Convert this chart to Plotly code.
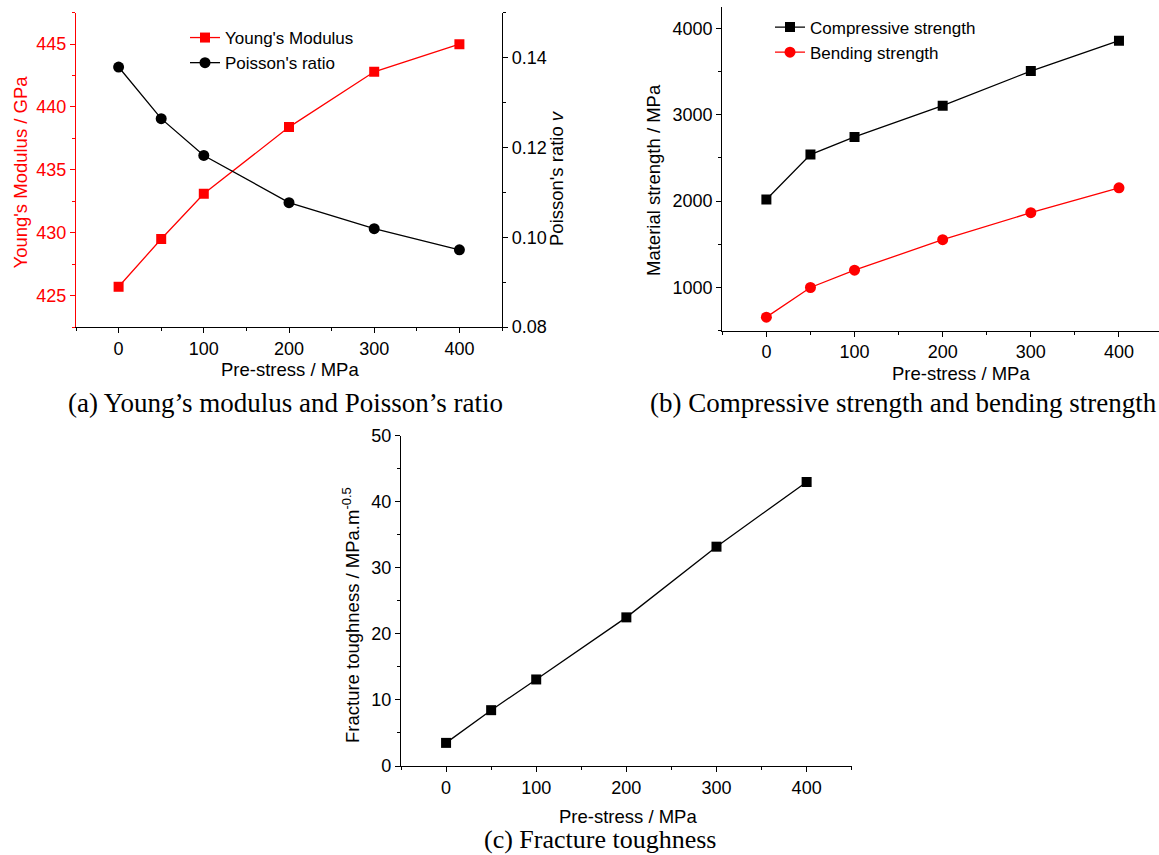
import plotly.graph_objects as go

W, H = 1159, 855

# ---- data ----
pre_stress = [0, 50, 100, 200, 300, 400]
youngs_modulus = [425.7, 429.5, 433.1, 438.4, 442.8, 445.0]
poisson_ratio = [0.1379, 0.1264, 0.1182, 0.1077, 0.1019, 0.0972]
compressive_strength = [2019, 2539, 2743, 3105, 3505, 3857]
bending_strength = [657, 1000, 1200, 1554, 1866, 2154]
fracture_toughness = [3.5, 8.45, 13.1, 22.5, 33.2, 43.0]

x_tick_vals = [0, 100, 200, 300, 400]

SANS = "Liberation Sans, Arial, sans-serif"
SERIF = "Liberation Serif, Times New Roman, serif"
RED = "#ff0000"


def fx(px):
    return px / W


def fy(py):
    return 1 - py / H


fig = go.Figure()

# (a)
fig.add_trace(go.Scatter(
    x=pre_stress, y=youngs_modulus, name="Young's Modulus",
    mode="lines+markers", xaxis="x", yaxis="y", legend="legend",
    line=dict(color=RED, width=1.3),
    marker=dict(symbol="square", size=10, color=RED)))
fig.add_trace(go.Scatter(
    x=pre_stress, y=poisson_ratio, name="Poisson's ratio",
    mode="lines+markers", xaxis="x", yaxis="y2", legend="legend",
    line=dict(color="black", width=1.3),
    marker=dict(symbol="circle", size=11, color="black")))

# (b)
fig.add_trace(go.Scatter(
    x=pre_stress, y=compressive_strength, name="Compressive strength",
    mode="lines+markers", xaxis="x2", yaxis="y3", legend="legend2",
    line=dict(color="black", width=1.3),
    marker=dict(symbol="square", size=10, color="black")))
fig.add_trace(go.Scatter(
    x=pre_stress, y=bending_strength, name="Bending strength",
    mode="lines+markers", xaxis="x2", yaxis="y3", legend="legend2",
    line=dict(color=RED, width=1.3),
    marker=dict(symbol="circle", size=11, color=RED)))

# (c)
fig.add_trace(go.Scatter(
    x=pre_stress, y=fracture_toughness, name="Fracture toughness",
    mode="lines+markers", xaxis="x3", yaxis="y4", showlegend=False,
    line=dict(color="black", width=1.3),
    marker=dict(symbol="square", size=10, color="black")))


def axis(color="black", **kw):
    d = dict(showgrid=False, zeroline=False, showline=True, linecolor=color,
             linewidth=1.3, ticks="outside", ticklen=5, tickwidth=1.2,
             tickcolor=color, tickfont=dict(family=SANS, size=18, color=color),
             fixedrange=True, automargin=False)
    d.update(kw)
    return d


layout_axes = dict(
    xaxis=axis(domain=[fx(76), fx(502)], range=[-50, 450], anchor="y",
               tickmode="array", tickvals=x_tick_vals,
               minor=dict(dtick=50, tick0=0, ticks="outside", ticklen=3, tickcolor="black")),
    yaxis=axis(color=RED, domain=[fy(327), fy(12.7)], range=[422.5, 447.5], anchor="x",
               dtick=5, tick0=425,
               minor=dict(dtick=2.5, tick0=425, ticks="outside", ticklen=3, tickcolor=RED)),
    yaxis2=axis(overlaying="y", side="right", anchor="x", range=[0.08, 0.15],
                dtick=0.02, tick0=0.08, tickformat=".2f",
                minor=dict(dtick=0.01, tick0=0.08, ticks="outside", ticklen=3, tickcolor="black")),
    xaxis2=axis(domain=[fx(722.3), 1.0], range=[-50, 445.4], anchor="y3",
                tickmode="array", tickvals=x_tick_vals,
                minor=dict(dtick=50, tick0=0, ticks="outside", ticklen=3, tickcolor="black")),
    yaxis3=axis(domain=[fy(330.7), fy(6.7)], range=[500, 4250], anchor="x2",
                dtick=1000, tick0=0,
                minor=dict(dtick=500, tick0=0, ticks="outside", ticklen=3, tickcolor="black")),
    xaxis3=axis(domain=[fx(401), fx(851.7)], range=[-50, 450], anchor="y4",
                tickmode="array", tickvals=x_tick_vals,
                minor=dict(dtick=50, tick0=0, ticks="outside", ticklen=3, tickcolor="black")),
    yaxis4=axis(domain=[fy(766), fy(435.7)], range=[0, 50], anchor="x3",
                dtick=10, tick0=0,
                minor=dict(dtick=5, tick0=0, ticks="outside", ticklen=3, tickcolor="black")),
)


def ann(text, px, py, size=18.5, color="black", angle=0, family=SANS):
    return dict(text=text, x=fx(px), y=fy(py), xref="paper", yref="paper",
                xanchor="center", yanchor="middle", showarrow=False,
                textangle=angle, font=dict(family=family, size=size, color=color))


annotations = [
    ann("Young's Modulus / GPa", 19.5, 172, color=RED, angle=-90),
    ann("Poisson's ratio <i>v</i>", 556, 178, angle=-90),
    ann("Pre-stress / MPa", 290, 369),
    ann("Material strength / MPa", 653, 180, angle=-90),
    ann("Pre-stress / MPa", 961, 373),
    ann("Fracture toughness / MPa.m<sup>-0.5</sup>", 351, 615, angle=-90),
    ann("Pre-stress / MPa", 628, 816),
    ann("(a) Young\u2019s modulus and Poisson\u2019s ratio", 285, 403, size=27, family=SERIF),
    ann("(b) Compressive strength and bending strength", 903, 403, size=27, family=SERIF),
    ann("(c) Fracture toughness", 600, 839, size=26, family=SERIF),
]

fig.update_layout(
    width=W, height=H, autosize=False,
    margin=dict(l=0, r=0, t=0, b=0, pad=0),
    paper_bgcolor="white", plot_bgcolor="white",
    font=dict(family=SANS, size=17, color="black"),
    annotations=annotations,
    legend=dict(x=fx(185), y=fy(20), xanchor="left", yanchor="top",
                bgcolor="rgba(0,0,0,0)", font=dict(family=SANS, size=17),
                traceorder="normal"),
    legend2=dict(x=fx(770), y=fy(9.5), xanchor="left", yanchor="top",
                 bgcolor="rgba(0,0,0,0)", font=dict(family=SANS, size=17),
                 traceorder="normal"),
    **layout_axes,
)

fig.write_html(
    "out.html",
    config={"displayModeBar": False},
    post_script="document.body.style.margin='0';document.body.style.padding='0';"
                "document.body.style.overflow='hidden';",
)
